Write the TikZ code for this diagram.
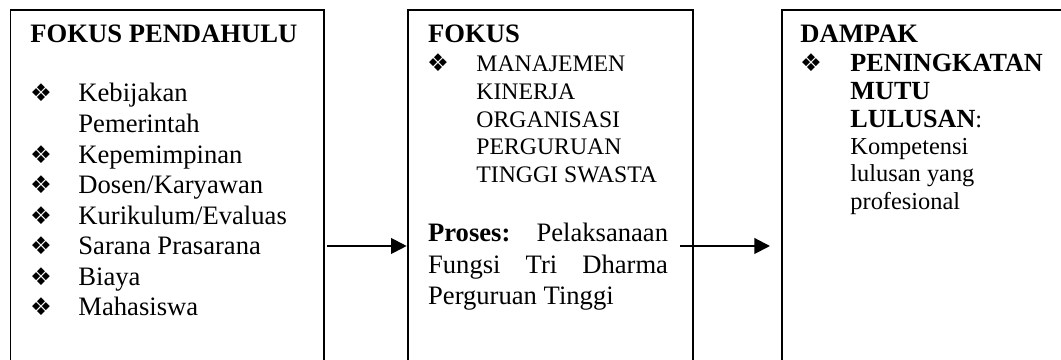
\documentclass[tikz,border=0pt]{standalone}
\usepackage{fontspec}
\setmainfont{Liberation Serif}
\newfontfamily\dejavu{DejaVu Sans}
\usetikzlibrary{arrows.meta}
\tikzset{
  box/.style={draw, line width=.9pt, anchor=north west, inner sep=0pt, minimum height=170pt},
  hd/.style={anchor=base west, inner sep=0pt, font=\fontsize{12}{14}\selectfont\bfseries},
  txt/.style={anchor=base west, inner sep=0pt},
  sml/.style={anchor=base west, inner sep=0pt, font=\fontsize{10.7}{12}\selectfont},
  dmp/.style={anchor=base west, inner sep=0pt, font=\fontsize{11}{12}\selectfont},
  dmpb/.style={dmp, font=\fontsize{11.8}{12}\selectfont\bfseries},
  bul/.style={inner sep=0pt, font=\dejavu\fontsize{11}{12}\selectfont},
  arr/.style={->, line width=.9pt}
}
\begin{document}
\begin{tikzpicture}[x=0.451pt, y=-0.451pt, >={Triangle[length=7pt,width=7pt]}, font=\fontsize{12}{14}\selectfont]
\clip (0,0) rectangle (1061,360);
% boxes
\node[box, minimum width=141.5pt] (pendahulu) at (9.5,9) {};
\node[box, minimum width=128.5pt] (fokus) at (406.7,9) {};
\node[box, minimum width=140pt] (dampak) at (780.7,9) {};
% fokus pendahulu
\node[hd] (h1) at (30,43) {FOKUS PENDAHULU};
\node[bul] at (41,93) {❖};
\node[txt] (k1) at (78,102) {Kebijakan};
\node[txt] (k2) at (78,133) {Pemerintah};
\node[bul] at (41,155) {❖};
\node[txt] (k3) at (78,164) {Kepemimpinan};
\node[bul] at (41,185) {❖};
\node[txt] (k4) at (78,194) {Dosen/Karyawan};
\node[bul] at (41,216) {❖};
\node[txt] (k5) at (78,225) {Kurikulum/Evaluas};
\node[bul] at (41,246) {❖};
\node[txt] (k6) at (78,255) {Sarana Prasarana};
\node[bul] at (41,277) {❖};
\node[txt] (k7) at (78,286) {Biaya};
\node[bul] at (41,307) {❖};
\node[txt] (k8) at (78,316) {Mahasiswa};
% fokus
\node[hd] (h2) at (427.7,43) {FOKUS};
\node[bul] at (438,63) {❖};
\node[sml] (f1) at (476,72) {MANAJEMEN};
\node[sml] (f2) at (476,100) {KINERJA};
\node[sml] (f3) at (476,128) {ORGANISASI};
\node[sml] (f4) at (476,155) {PERGURUAN};
\node[sml] (f5) at (476,183) {TINGGI SWASTA};
\node[txt] (p1) at (427.7,242) {\makebox[108.2pt][s]{\textbf{Proses:} Pelaksanaan}};
\node[txt] (p2) at (427.7,274) {\makebox[108.2pt][s]{Fungsi Tri Dharma}};
\node[txt] (p3) at (427.7,305) {Perguruan Tinggi};
% dampak
\node[hd] (h3) at (800,43) {DAMPAK};
\node[bul] at (811,63) {❖};
\node[dmpb] (d1) at (850,72) {PENINGKATAN};
\node[dmpb] (d2) at (850,100) {MUTU};
\node[dmp] (d3) at (850,128) {{\fontsize{11.8}{12}\selectfont\bfseries LULUSAN}:};
\node[dmp] (d4) at (850,155) {Kompetensi};
\node[dmp] (d5) at (850,182) {lulusan yang};
\node[dmp] (d6) at (850,210) {profesional};
% arrows
\coordinate (a1) at (327,246);
\coordinate (a2) at (680,246);
\coordinate (b2) at (770,246);
\draw[arr] (a1) -- (a1 -| fokus.west);
\draw[arr] (a2) -- (b2);
\end{tikzpicture}
\end{document}
